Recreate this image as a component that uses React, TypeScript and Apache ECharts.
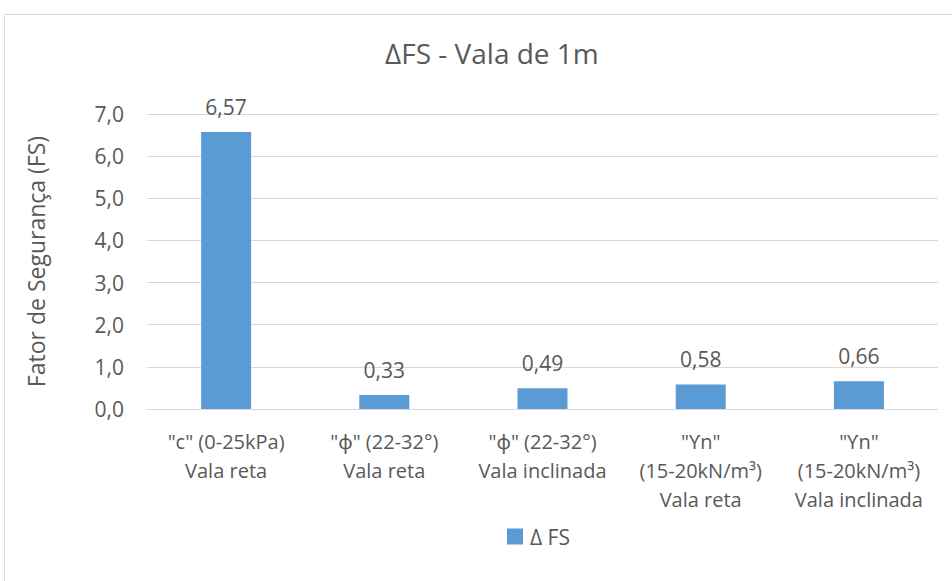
import React, { useEffect, useRef } from "react";
import * as echarts from "echarts";

const categories = [
  '"c" (0-25kPa)\nVala reta',
  '"ϕ" (22-32°)\nVala reta',
  '"ϕ" (22-32°)\nVala inclinada',
  '"ϒn"\n(15-20kN/m³)\nVala reta',
  '"ϒn"\n(15-20kN/m³)\nVala inclinada',
];
const deltaFS = [6.57, 0.33, 0.49, 0.58, 0.66];
const seriesName = "Δ FS";
const titleText = "ΔFS - Vala de 1m";
const yAxisTitle = "Fator de Segurança (FS)";

const FONT = "'Open Sans', 'Noto Sans', sans-serif";
const TXT = "#595959";

export default function App() {
  const ref = useRef<HTMLDivElement>(null);
  useEffect(() => {
    if (!ref.current) return;
    const chart = echarts.init(ref.current, undefined, { renderer: "svg" });
    chart.setOption({
      animation: false,
      backgroundColor: "#ffffff",
      textStyle: { fontFamily: FONT },
      title: {
        text: titleText,
        left: 380,
        top: 34,
        textStyle: { fontFamily: FONT, fontSize: 28, fontWeight: "normal", color: TXT },
      },
      legend: {
        top: 521,
        left: 502,
        itemWidth: 16,
        itemHeight: 16,
        icon: "rect",
        itemGap: 7,
        textStyle: { fontFamily: FONT, fontSize: 21, color: TXT, padding: [0, 0, 0, 2] },
        data: [seriesName],
      },
      grid: { left: 147, right: 14, top: 114, bottom: 172 },
      xAxis: {
        type: "category",
        data: categories,
        axisLine: { lineStyle: { color: "#d9d9d9" } },
        axisTick: { show: false },
        axisLabel: {
          interval: 0,
          color: TXT,
          fontFamily: FONT,
          fontSize: 20,
          lineHeight: 29,
          margin: 18,
        },
      },
      yAxis: {
        type: "value",
        min: 0,
        max: 7,
        interval: 1,
        name: yAxisTitle,
        nameLocation: "middle",
        nameGap: 100,
        nameTextStyle: { fontFamily: FONT, fontSize: 23, color: TXT },
        axisLine: { show: false },
        axisTick: { show: false },
        splitLine: { lineStyle: { color: "#d9d9d9" } },
        axisLabel: {
          color: TXT,
          fontFamily: FONT,
          fontSize: 21,
          margin: 23,
          formatter: (v: number) => v.toFixed(1).replace(".", ","),
        },
      },
      series: [
        {
          name: seriesName,
          type: "bar",
          data: deltaFS,
          barWidth: 50,
          itemStyle: { color: "#5b9bd5" },
          label: {
            show: true,
            position: "top",
            distance: 15,
            color: TXT,
            fontFamily: FONT,
            fontSize: 21,
            formatter: (p: any) => Number(p.value).toFixed(2).replace(".", ","),
          },
        },
      ],
      graphic: [
        {
          type: "rect",
          shape: { x: 4.5, y: 14.5, width: 960, height: 600 },
          style: { fill: "none", stroke: "#d9d9d9", lineWidth: 1 },
          silent: true,
        },
      ],
    });
    return () => chart.dispose();
  }, []);
  return (
    <div
      ref={ref}
      style={{ position: "absolute", left: 0, top: 0, width: 952, height: 581 }}
    />
  );
}
